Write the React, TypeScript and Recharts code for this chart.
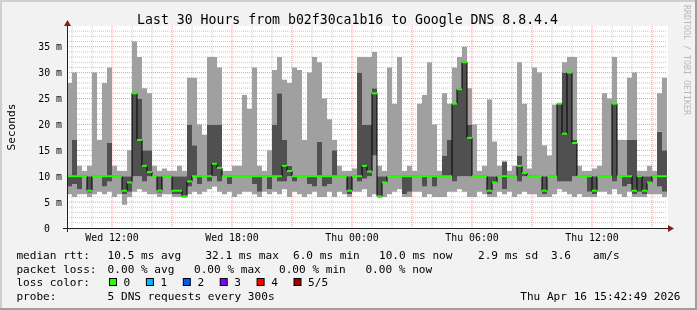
import React from 'react';
import { ComposedChart, Area, Line, XAxis, YAxis, CartesianGrid } from 'recharts';

// 120 bins of 15 minutes, starting Wed 09:45 (t = minutes since then)
const BIN_MIN = 15;

// smoke top (slowest of 5 pings), ms
const smokeMax = [
  28, 30, 12, 11, 12, 30, 17, 28, 31, 12, 11, 11, 15, 36, 33, 27, 26, 12, 11, 11.5,
  11, 11, 12, 11, 29, 29, 20, 18, 33, 33, 31, 11, 11, 12, 12, 25.7, 23, 31, 12, 11,
  15, 30.5, 33, 28.6, 28, 31, 30.5, 17, 30, 33, 32, 25, 21, 17, 12, 11, 11, 11.5, 33, 33,
  33, 34, 12, 11, 31, 24, 33, 11, 12, 11, 24, 25.7, 32, 20, 11, 26, 24, 31, 33, 35,
  27, 20, 11, 12, 24.8, 16.7, 12, 13, 11, 12, 32, 24, 11.5, 31, 30, 16, 14, 23.8, 24, 32,
  33, 33, 12, 11, 11, 11.5, 12, 26, 25, 33, 17, 17, 29, 30, 11, 11, 12, 11, 26, 29,
];
// upper edge of the dark (inner) smoke, ms
const smokeHi = [
  10, 17, 10, 10, 10, 10, 10, 10, 16.4, 10, 10, 10, 10, 26, 25, 15, 15, 10, 10, 10,
  10, 10, 10, 10, 20, 16, 10, 10, 20, 20, 20, 10, 10, 10, 10, 10, 10, 10, 10, 10,
  10, 20, 26, 17, 12, 10, 10, 10, 10, 10, 16.7, 10, 10, 15, 10, 10, 10, 10, 30, 20,
  20, 27, 10, 10, 10, 10, 10, 10, 10, 10, 10, 10, 10, 10, 10, 14, 17, 24, 27, 32,
  20, 10, 10, 10, 10, 10, 10, 12.8, 10, 10, 14, 10.6, 10, 10, 10, 10, 10, 10, 24, 30,
  30, 17, 10, 10, 10, 10, 10, 10, 10, 24, 10, 10, 17, 17, 10, 10, 10, 10, 18.6, 15,
];
// median rtt, ms
const medianRtt = [
  10, 10, 10, 10, 7.2, 10, 10, 10, 10, 10, 10, 7.2, 8.8, 26, 17, 12, 10.8, 10, 7.2, 10,
  10, 7.2, 7.2, 6.1, 9, 10, 10, 10, 10, 12.4, 11.6, 10, 10, 10, 10, 10, 10, 10, 10, 10,
  10, 10, 10, 12, 11, 10, 10, 10, 10, 10, 10, 10, 10, 10, 10, 10, 7.2, 10, 10, 12,
  10.9, 26, 6.1, 8.8, 10, 10, 10, 10, 10, 10, 10, 10, 10, 10, 10, 10, 10, 24, 26.8, 32,
  17.4, 10, 10, 10, 7.2, 8.8, 10, 10, 10, 10, 12, 10.6, 10, 10, 10, 7.2, 10, 10, 24, 18.2,
  30, 16.4, 10, 10, 10, 7.2, 10, 10, 10, 24, 10, 10, 10, 7.2, 10, 7.2, 8.8, 10, 10, 10,
];
// lower edge of the dark smoke, ms
const smokeLo = [
  8, 8.5, 7.5, 10, 6.8, 10, 10, 8, 9, 10, 10, 6.5, 7, 10, 10, 9, 10, 10, 6.8, 10,
  10, 6.5, 6.5, 6, 8, 10, 8.5, 10, 9, 10, 9, 10, 8.5, 10, 10, 10, 10, 8.5, 7, 10,
  7.5, 10, 9, 9, 10, 9, 10, 10, 8.5, 8, 10, 8, 8.5, 10, 10, 10, 6.5, 10, 9, 9.5,
  10, 14, 6, 8.8, 10, 10, 10, 6.5, 7, 10, 10, 8, 10, 8, 10, 10, 10, 9, 10, 10,
  10, 10, 10, 10, 6.5, 8.8, 10, 7.5, 10, 10, 9, 10, 10, 10, 10, 6.5, 10, 10, 9, 9,
  9, 10, 10, 10, 7, 6.5, 10, 10, 10, 9, 10, 8, 8.5, 6.5, 7, 6.5, 8.8, 10, 8, 7,
];
// smoke bottom (fastest ping), ms
const smokeMin = [
  6.5, 6, 6.5, 6.5, 6, 6.5, 7, 6.5, 7, 6, 6.5, 4.5, 6, 7, 7.5, 7, 6.5, 6.5, 6, 6.5,
  6.5, 6, 6, 5.8, 6.5, 7, 6.5, 7, 7.5, 8, 7, 6.5, 7, 6, 6.5, 7, 7, 6.5, 6, 7,
  6.5, 7, 6.5, 7.5, 6, 7, 6.5, 6, 6.5, 7, 6, 6, 7, 6, 7, 6.5, 6, 7, 7, 7.5,
  6, 6.5, 5.8, 6, 6.5, 7, 7.5, 6, 6, 7, 7, 6, 6.5, 6, 6, 6, 7, 7, 7.5, 7,
  6, 6, 7, 6.5, 6, 6, 7, 6.5, 7, 6, 6.5, 7, 6.5, 6.5, 6, 6, 6, 6.5, 7.5, 7,
  6.5, 6, 6.5, 6, 6, 6, 7, 7, 6.5, 7.5, 6.5, 6, 7, 6, 6, 6, 6.5, 6.5, 6.5, 6,
];

const xTicks = [135, 495, 855, 1215, 1575];
const xTickLabels = ['Wed 12:00', 'Wed 18:00', 'Thu 00:00', 'Thu 06:00', 'Thu 12:00'];
const yTicks = [0, 5, 10, 15, 20, 25, 30, 35];

const lossColors = ['#26ff00', '#00b8ff', '#0059ff', '#7e00ff', '#ff0000', '#a00000'];
const lossLabels = ['0', '1', '2', '3', '4', '5/5'];

const MONO = '"DejaVu Sans Mono", monospace';
const LIGHT = '#a0a0a0';
const DARK = '#505050';
const T_END = smokeMax.length * BIN_MIN;
const BIN_PX = 600 / smokeMax.length;

const rows = smokeMax.map((mx, i) => ({
  t: i * BIN_MIN,
  base: smokeMin[i],
  band1: smokeLo[i] - smokeMin[i],
  band2: smokeHi[i] - smokeLo[i],
  band3: mx - smokeHi[i],
  median: medianRtt[i],
}));
rows.push({ ...rows[rows.length - 1], t: T_END });

const hourLines: number[] = [];
for (let t = 15; t < T_END; t += 60) hourLines.push(t);
const majorX = hourLines.filter((t) => (t - 135) % 180 === 0);
const minorX = hourLines.filter((t) => (t - 135) % 180 !== 0);
const minorY: number[] = [];
for (let v = 1; v <= 38; v++) if (v % 5 !== 0) minorY.push(v);
const majorY = [5, 10, 15, 20, 25, 30, 35];

const MedianSeg = (props: any) => {
  const { cx, cy, index } = props;
  if (index >= smokeMax.length || cx == null || cy == null) return <g key={`m${index}`} />;
  return <rect key={`m${index}`} x={cx} y={cy - 1} width={BIN_PX} height={2} fill={lossColors[0]} />;
};

const XTick = ({ x, payload }: any) => (
  <text x={x} y={240.5} textAnchor="middle" fontFamily={MONO} fontSize={9.85} fill="#000">
    {xTickLabels[xTicks.indexOf(payload.value)]}
  </text>
);

const YTick = ({ y, payload }: any) => (
  <text x={payload.value === 0 ? 50 : 62} y={Math.round(y + 3.6)} textAnchor="end" fontFamily={MONO} fontSize={9.85} fill="#000" stroke="none">
    {payload.value === 0 ? '0' : `${payload.value} m`}
  </text>
);

const legendRow1 = [
  [16.4, 'median rtt:'], [107.6, '10.5 ms avg'], [205.4, '32.1 ms max'], [293, '6.0 ms min'],
  [379, '10.0 ms now'], [478, '2.9 ms sd'], [551, '3.6'], [593, 'am/s'],
] as const;
const legendRow2 = [
  [16.4, 'packet loss:'], [107.6, '0.00 % avg'], [194, '0.00 % max'], [279, '0.00 % min'], [365.4, '0.00 % now'],
] as const;

export default function App() {
  return (
    <div style={{ position: 'absolute', left: 0, top: 0, width: 697, height: 310, background: '#f2f2f2', overflow: 'hidden' }}>
      <div style={{ position: 'absolute', left: 67, top: 26, width: 601, height: 202, background: '#ffffff' }} />
      <div style={{ position: 'absolute', left: 0, top: 0, willChange: 'transform' }}>
        <ComposedChart width={697} height={310} data={rows} margin={{ top: 26, right: 30, bottom: 62, left: 0 }}>
          <CartesianGrid horizontalValues={minorY} verticalValues={minorX} stroke="#c8c8c8" strokeDasharray="1 1" />
          <CartesianGrid horizontalValues={majorY} verticalValues={majorX} stroke="#e89898" strokeDasharray="1 1" />
          <XAxis type="number" dataKey="t" domain={[0, T_END]} ticks={xTicks} height={20} axisLine={false} tickLine={false} tick={<XTick />} interval={0} />
          <YAxis type="number" domain={[0, 39]} ticks={yTicks} width={67} axisLine={false} tickLine={false} tick={<YTick />} interval={0} />
          <Area type="stepAfter" dataKey="base" stackId="smoke" stroke="none" fill="none" fillOpacity={0} isAnimationActive={false} activeDot={false} />
          <Area type="stepAfter" dataKey="band1" stackId="smoke" stroke="none" fill={LIGHT} fillOpacity={1} isAnimationActive={false} activeDot={false} />
          <Area type="stepAfter" dataKey="band2" stackId="smoke" stroke="none" fill={DARK} fillOpacity={1} isAnimationActive={false} activeDot={false} />
          <Area type="stepAfter" dataKey="band3" stackId="smoke" stroke="none" fill={LIGHT} fillOpacity={1} isAnimationActive={false} activeDot={false} />
          <Line type="stepAfter" dataKey="median" stroke="#000000" strokeWidth={1} dot={MedianSeg} activeDot={false} isAnimationActive={false} />
        </ComposedChart>
      </div>
      <svg width={697} height={310} style={{ position: 'absolute', left: 0, top: 0, pointerEvents: 'none' }}>
        {/* frame shading */}
        <rect x={0} y={0} width={697} height={2} fill="#cfcfcf" />
        <rect x={0} y={0} width={2} height={310} fill="#cfcfcf" />
        <rect x={0} y={308} width={697} height={2} fill="#9e9e9e" />
        <rect x={695} y={0} width={2} height={310} fill="#9e9e9e" />
        {/* axes */}
        <line x1={63} y1={228.5} x2={670} y2={228.5} stroke="#1f1f1f" strokeWidth={1} />
        <line x1={67.5} y1={232} x2={67.5} y2={24} stroke="#1f1f1f" strokeWidth={1} />
        <polygon points="668,225 668,232 674,228.5" fill="#801f1f" />
        <polygon points="64,26 71,26 67.5,20" fill="#801f1f" />
        <text x={347.5} y={24} textAnchor="middle" fontFamily={MONO} fontSize={13.2} fill="#000">
          Last 30 Hours from b02f30ca1b16 to Google DNS 8.8.4.4
        </text>
        <text x={0} y={0} transform="translate(15,127) rotate(-90)" textAnchor="middle" fontFamily={MONO} fontSize={11.1} fill="#000">
          Seconds
        </text>
        <text x={0} y={0} transform="translate(683.5,60) rotate(90)" textAnchor="middle" fontFamily={MONO} fontSize={8.3} fill="#b8b8b8">
          RRDTOOL / TOBI OETIKER
        </text>
        <g fontFamily={MONO} fontSize={11.1} fill="#000" style={{ whiteSpace: 'pre' }}>
          {legendRow1.map(([x, s]) => (
            <text key={s} x={x} y={259}>{s}</text>
          ))}
          {legendRow2.map(([x, s]) => (
            <text key={s} x={x} y={272.5}>{s}</text>
          ))}
          <text x={16.4} y={286}>loss color:</text>
          {lossColors.map((c, i) => (
            <g key={c}>
              <rect x={109.5 + i * 36.9} y={278.5} width={7} height={7} fill={c} stroke="#000" strokeWidth={1} />
              <text x={123.6 + i * 36.9} y={286}>{lossLabels[i]}</text>
            </g>
          ))}
          <text x={16.4} y={300}>probe:</text>
          <text x={107.6} y={300}>5 DNS requests every 300s</text>
          <text x={680.5} y={300} textAnchor="end">Thu Apr 16 15:42:49 2026</text>
        </g>
      </svg>
    </div>
  );
}
